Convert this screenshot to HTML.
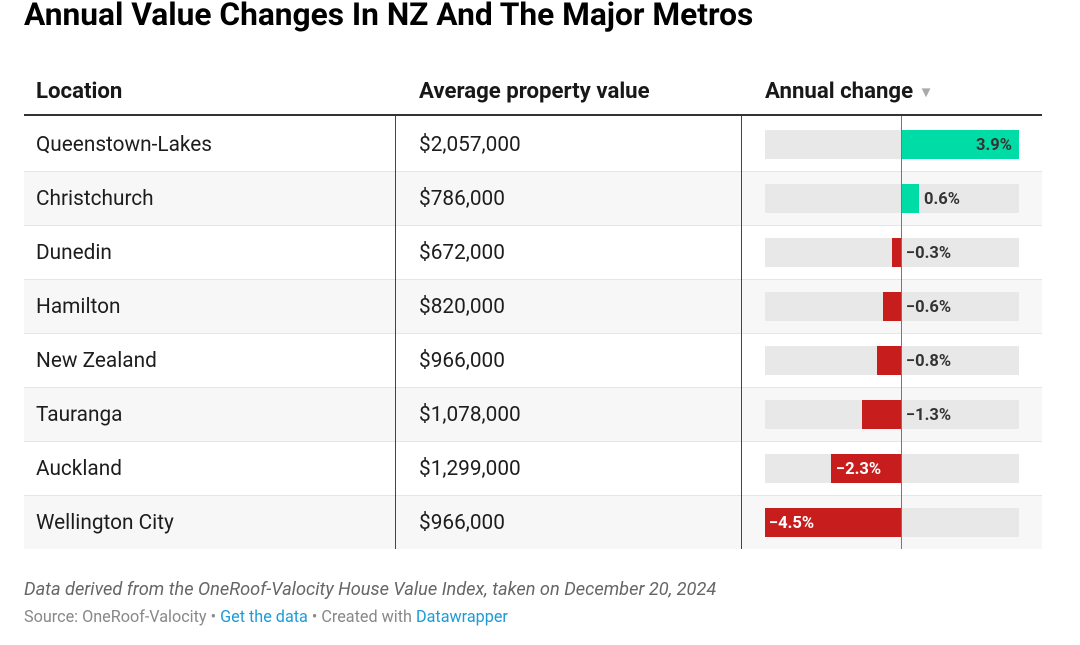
<!DOCTYPE html>
<html><head><meta charset="utf-8"><style>
*{margin:0;padding:0;box-sizing:border-box}
body{width:1080px;height:645px;background:#fff;font-family:"Roboto","Liberation Sans",Arial,sans-serif;position:relative;overflow:hidden;color:#1d1d1d}
.a{position:absolute;white-space:nowrap}
.title{left:24px;top:-4px;font-size:31.7px;font-weight:bold;color:#000;letter-spacing:0}
.hd{top:78px;font-size:22.2px;font-weight:bold;color:#181818}
.hline{left:24px;top:114px;width:1018px;height:2px;background:#333}
.row{left:24px;width:1018px;height:54px}
.sep{left:24px;width:1018px;height:1px;background:#e6e6e6}
.cell{font-size:20.8px;color:#1d1d1d}
.vl{width:1px;background:#444;top:116px;height:433px}
.bg{left:765px;width:254px;height:29px;background:#e8e8e8}
.bar{height:29px}
.g{background:#00dca6}
.r{background:#c71e1d}
.lbl{font-size:16.5px;font-weight:bold;line-height:29px;color:#333}
.w{color:#fff}
.note{left:24px;top:579px;font-size:18.2px;font-style:italic;color:#666}
.src{left:24px;top:607px;font-size:16.2px;color:#888}
.src span{color:#1d9bd6}
</style></head><body>
<div class="a title">Annual Value Changes In NZ And The Major Metros</div>

<div class="a hd" style="left:36px">Location</div>
<div class="a hd" style="left:419px">Average property value</div>
<div class="a hd" style="left:765px">Annual change <span style="color:#aaa;font-size:15px;position:relative;top:-1px">&#9660;</span></div>
<div class="a hline"></div>

<!-- row backgrounds -->
<div class="a row" style="top:171px;background:#f7f7f7"></div>
<div class="a row" style="top:279px;background:#f7f7f7"></div>
<div class="a row" style="top:387px;background:#f7f7f7"></div>
<div class="a row" style="top:495px;background:#f7f7f7"></div>
<div class="a sep" style="top:171px"></div>
<div class="a sep" style="top:225px"></div>
<div class="a sep" style="top:279px"></div>
<div class="a sep" style="top:333px"></div>
<div class="a sep" style="top:387px"></div>
<div class="a sep" style="top:441px"></div>
<div class="a sep" style="top:495px"></div>

<div class="a vl" style="left:395px"></div>
<div class="a vl" style="left:741px"></div>

<!-- text cells -->
<div class="a cell" style="left:36px;top:133px">Queenstown-Lakes</div>
<div class="a cell" style="left:36px;top:187px">Christchurch</div>
<div class="a cell" style="left:36px;top:241px">Dunedin</div>
<div class="a cell" style="left:36px;top:295px">Hamilton</div>
<div class="a cell" style="left:36px;top:349px">New Zealand</div>
<div class="a cell" style="left:36px;top:403px">Tauranga</div>
<div class="a cell" style="left:36px;top:457px">Auckland</div>
<div class="a cell" style="left:36px;top:511px">Wellington City</div>

<div class="a cell" style="left:419px;top:133px">$2,057,000</div>
<div class="a cell" style="left:419px;top:187px">$786,000</div>
<div class="a cell" style="left:419px;top:241px">$672,000</div>
<div class="a cell" style="left:419px;top:295px">$820,000</div>
<div class="a cell" style="left:419px;top:349px">$966,000</div>
<div class="a cell" style="left:419px;top:403px">$1,078,000</div>
<div class="a cell" style="left:419px;top:457px">$1,299,000</div>
<div class="a cell" style="left:419px;top:511px">$966,000</div>

<!-- bar backgrounds -->
<div class="a bg" style="top:130px"></div>
<div class="a bg" style="top:184px"></div>
<div class="a bg" style="top:238px"></div>
<div class="a bg" style="top:292px"></div>
<div class="a bg" style="top:346px"></div>
<div class="a bg" style="top:400px"></div>
<div class="a bg" style="top:454px"></div>
<div class="a bg" style="top:508px"></div>

<!-- bars -->
<div class="a bar g" style="left:901px;width:118px;top:130px"></div>
<div class="a bar g" style="left:901px;width:18px;top:184px"></div>
<div class="a bar r" style="left:892px;width:9px;top:238px"></div>
<div class="a bar r" style="left:883px;width:18px;top:292px"></div>
<div class="a bar r" style="left:877px;width:24px;top:346px"></div>
<div class="a bar r" style="left:862px;width:39px;top:400px"></div>
<div class="a bar r" style="left:831px;width:70px;top:454px"></div>
<div class="a bar r" style="left:765px;width:136px;top:508px"></div>

<!-- zero line -->
<div class="a" style="left:901px;top:116px;width:1px;height:433px;background:#777"></div>

<!-- labels -->
<div class="a lbl" style="left:976px;top:131px">3.9%</div>
<div class="a lbl" style="left:924px;top:185px">0.6%</div>
<div class="a lbl" style="left:906px;top:239px">&minus;0.3%</div>
<div class="a lbl" style="left:906px;top:293px">&minus;0.6%</div>
<div class="a lbl" style="left:906px;top:347px">&minus;0.8%</div>
<div class="a lbl" style="left:906px;top:401px">&minus;1.3%</div>
<div class="a lbl w" style="left:836px;top:455px">&minus;2.3%</div>
<div class="a lbl w" style="left:769px;top:509px">&minus;4.5%</div>

<div class="a note">Data derived from the OneRoof-Valocity House Value Index, taken on December 20, 2024</div>
<div class="a src">Source: OneRoof-Valocity • <span>Get the data</span> • Created with <span>Datawrapper</span></div>
</body></html>
